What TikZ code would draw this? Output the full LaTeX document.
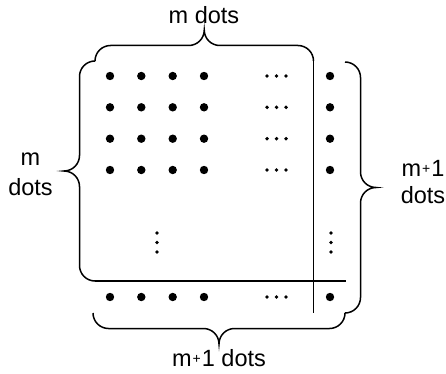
\documentclass[tikz,border=0pt]{standalone}
\usepackage{fontspec}
\setmainfont{Liberation Sans}
\usetikzlibrary{decorations.pathreplacing, positioning}

% brace with round ends and round tip
\pgfdeclaredecoration{tbrace}{brace}
{
  \state{brace}[width=+\pgfdecoratedremainingdistance,next state=final]
  {
    \pgfpathmoveto{\pgfpointorigin}
    \pgfpathcurveto{\pgfqpoint{0pt}{.276\pgfdecorationsegmentamplitude}}{\pgfqpoint{.224\pgfdecorationsegmentamplitude}{.5\pgfdecorationsegmentamplitude}}{\pgfqpoint{.5\pgfdecorationsegmentamplitude}{.5\pgfdecorationsegmentamplitude}}
    {
      \pgftransformxshift{+\pgfdecorationsegmentaspect\pgfdecoratedremainingdistance}
      \pgfpathlineto{\pgfqpoint{-.5\pgfdecorationsegmentamplitude}{.5\pgfdecorationsegmentamplitude}}
      \pgfpathcurveto{\pgfqpoint{-.224\pgfdecorationsegmentamplitude}{.5\pgfdecorationsegmentamplitude}}{\pgfqpoint{0pt}{.724\pgfdecorationsegmentamplitude}}{\pgfqpoint{0pt}{\pgfdecorationsegmentamplitude}}
      \pgfpathcurveto{\pgfqpoint{0pt}{.724\pgfdecorationsegmentamplitude}}{\pgfqpoint{.224\pgfdecorationsegmentamplitude}{.5\pgfdecorationsegmentamplitude}}{\pgfqpoint{.5\pgfdecorationsegmentamplitude}{.5\pgfdecorationsegmentamplitude}}
    }
    {
      \pgftransformxshift{+\pgfdecoratedremainingdistance}
      \pgfpathlineto{\pgfqpoint{-.5\pgfdecorationsegmentamplitude}{.5\pgfdecorationsegmentamplitude}}
      \pgfpathcurveto{\pgfqpoint{-.224\pgfdecorationsegmentamplitude}{.5\pgfdecorationsegmentamplitude}}{\pgfqpoint{0pt}{.276\pgfdecorationsegmentamplitude}}{\pgfpointorigin}
    }
  }
  \state{final}{}
}

\newcommand{\mpone}{m\kern1pt\raisebox{3pt}{\fontsize{14}{14}\selectfont+}\kern1pt1}

\begin{document}
\begin{tikzpicture}[
    x=1pt, y=1pt,
    line width=1.5pt,
    dot/.style={circle, fill, inner sep=0pt, minimum size=8.4pt},
    sdot/.style={circle, fill, inner sep=0pt, minimum size=3.9pt},
    mbrace/.style={decorate, decoration={tbrace, amplitude=31pt}},
    lbl/.style={font=\fontsize{23.5}{27}\selectfont, align=center, inner sep=0pt},
]
    \useasboundingbox (0,0) rectangle (446,373);

    % dot grid, one row of ... per row
    \foreach \r/\y in {1/297, 2/265.7, 3/234.3, 4/203, 5/76} {
      \foreach \c/\x in {1/110, 2/141.3, 3/172.7, 4/204, 5/330}
        \node[dot] (d\r\c) at (\x,\y) {};
      \foreach \x [count=\i] in {267, 276.5, 286}
        \node[sdot] (h\r\i) at (\x,\y) {};
    }
    % vertical dots
    \foreach \x [count=\c] in {157, 331}
      \foreach \y [count=\i] in {140, 130.5, 121}
        \node[sdot] (v\c\i) at (\x,\y) {};

    \coordinate (tl) at (95,312);
    \coordinate (tr) at (313.5,312);
    \coordinate (lb) at (95,92);
    \coordinate (hr) at (346,92);
    \coordinate (vb) at (313.5,60);
    \coordinate (rt) at (345,311);
    \coordinate (rb) at (345,60);
    \coordinate (bl) at (93,60);

    \draw[mbrace] (lb) -- (tl);
    \draw[mbrace] (tl) -- (tr);
    \draw[mbrace] (rt) -- (rb);
    \draw[mbrace] (rb) -- (bl);
    \draw (lb) -- (hr);
    \draw (tr) -- (vb);

    \node[lbl] (ltop) at (204,358) {m dots};
    \node[lbl] (lbot) at (219,14.5) {\mpone{} dots};
    \node[lbl] (lleft) at (30.5,199) {m\\[3pt]dots};
    \node[lbl] (lright) at (423,191) {\mpone\\dots};
\end{tikzpicture}
\end{document}
